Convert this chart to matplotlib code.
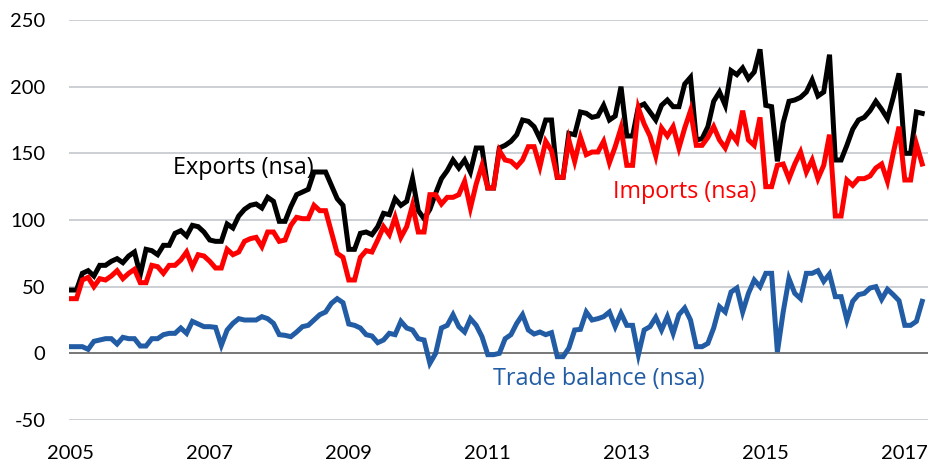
import numpy as np
import matplotlib
matplotlib.use('Agg')
import matplotlib.pyplot as plt

plt.rcParams['font.family'] = ['Lato', 'DejaVu Sans']
plt.rcParams['axes.unicode_minus'] = False

# monthly, Jan 2005 .. Apr 2017
exports = [47.5, 47.5, 60, 62, 58, 66, 66, 69, 71, 68, 73, 76,
           59, 78, 77, 74, 81, 81, 90, 92, 88, 96, 95, 91,
           85, 84, 84, 97, 94, 103, 108, 111, 112, 109, 117, 114,
           99, 99, 110, 119, 121, 123, 136, 136, 136, 126, 116, 111,
           78, 78, 90, 91, 89, 95, 105, 104, 116, 111, 114, 131,
           107, 101, 108, 120, 131, 137, 145, 139, 145, 136, 154, 154,
           124, 124, 154, 156, 159, 164, 175, 174, 170, 161, 175, 175,
           132, 132, 165, 164, 181, 180, 177, 178, 186, 175, 178, 200,
           163, 163, 185, 187, 181, 175, 186, 190, 185, 185, 202, 207,
           160, 161, 170, 189, 196, 186, 212, 209, 214, 206, 211, 228,
           186, 185, 144, 173, 189, 190, 192, 196, 205, 193, 196, 224,
           145, 145, 156, 168, 175, 177, 182, 189, 183, 176, 192, 210,
           150, 150, 181, 180]

imports = [41, 41, 55, 57, 50, 56, 55, 58, 62, 56, 60, 63,
           53, 53, 66, 65, 60, 66, 66, 70, 76, 65, 74, 73,
           69, 64, 64, 78, 74, 76, 84, 86, 87, 80, 91, 91,
           84, 85, 96, 102, 101, 101, 111, 107, 107, 91, 75, 72,
           55, 55, 72, 77, 76, 85, 95, 89, 102, 87, 95, 111,
           91, 91, 119, 119, 112, 117, 117, 119, 129, 109, 127, 141,
           124, 124, 152, 145, 144, 140, 145, 155, 155, 140, 159, 152,
           132, 132, 160, 144, 162, 149, 151, 151, 159, 143, 155, 169,
           141, 141, 184, 172, 163, 148, 169, 163, 170, 154, 169, 182,
           156, 156, 162, 170, 160, 154, 165, 159, 182, 160, 156, 177,
           125, 125, 141, 142, 131, 142, 151, 136, 145, 131, 141, 164,
           103, 103, 130, 126, 131, 131, 133, 139, 142, 129, 150, 170,
           130, 130, 157, 142]

balance = [5, 5, 5, 3, 9, 10, 11, 11, 7, 12, 11, 11,
           5.5, 5.5, 11, 11, 14, 15, 15, 19, 15, 24, 22, 20,
           20, 19.5, 6, 17.5, 22.5, 26, 25, 25, 25, 27.5, 26, 22.5,
           14, 13.5, 12.5, 16, 20, 21, 25, 29, 31, 37.5, 41, 38,
           22, 21, 19, 14, 13, 8, 10, 15, 14, 24, 19, 17.5,
           11, 10, -7.5, 0, 19, 21, 29, 20, 16, 26, 21, 12.5,
           -1, -1, 0, 11, 14, 22.5, 29, 17.5, 14.5, 16, 14, 15.5,
           -2.5, -2.5, 4, 17.5, 18, 31, 25, 26, 27.5, 31, 20, 30,
           21, 21, -1, 17.5, 20, 27, 17.5, 27.5, 15, 29, 34, 25,
           5, 5, 7.5, 19, 35, 31, 46, 49, 31, 45, 55, 50,
           60, 60, 1, 31, 56, 45, 41, 60, 60, 62, 54, 59.5,
           42.5, 42.5, 25, 39, 44, 45, 49, 50, 40.5, 48, 44, 39.5,
           21, 21, 24, 39]

years = [2005, 2007, 2009, 2011, 2013, 2015, 2017]
yticks = [-50, 0, 50, 100, 150, 200, 250]

months = np.arange(len(exports))

fig = plt.figure(figsize=(9.35, 4.62), dpi=100)
ax = fig.add_axes([0.0738, 0.0909, 0.9187, 0.8658])

for v in yticks:
    if v == 0:
        ax.axhline(v, color='#606060', lw=1.2, zorder=1)
    else:
        ax.axhline(v, color='#c3c8ce', lw=1.2, zorder=1)

ax.plot(months, exports, color='black', lw=3.6, zorder=3, solid_joinstyle='miter')
ax.plot(months, imports, color='#ff0000', lw=3.6, zorder=4, solid_joinstyle='miter')
ax.plot(months, balance, color='#215ca4', lw=3.6, zorder=3, solid_joinstyle='miter')

lbl = dict(fontsize=16.8, va='center', ha='left', family=['Open Sans', 'DejaVu Sans'])
ax.text(17.6, 139, 'Exports (nsa)', color='black', **lbl)
ax.text(93.6, 121, 'Imports (nsa)', color='#ff0000', **lbl)
ax.text(72.9, -19.5, 'Trade balance (nsa)', color='#215ca4', **lbl)

ax.set_xlim(-0.3, 148)
ax.set_ylim(-50, 250)
ax.set_yticks(yticks)
ax.set_xticks([(y - 2005) * 12 for y in years])
ax.set_xticklabels([str(y) for y in years])
ax.tick_params(axis='both', length=0, labelsize=14.5)
ax.tick_params(axis='y', pad=17)
ax.tick_params(axis='x', pad=18)
for s in ax.spines.values():
    s.set_visible(False)

plt.savefig('out.png', dpi=100)
